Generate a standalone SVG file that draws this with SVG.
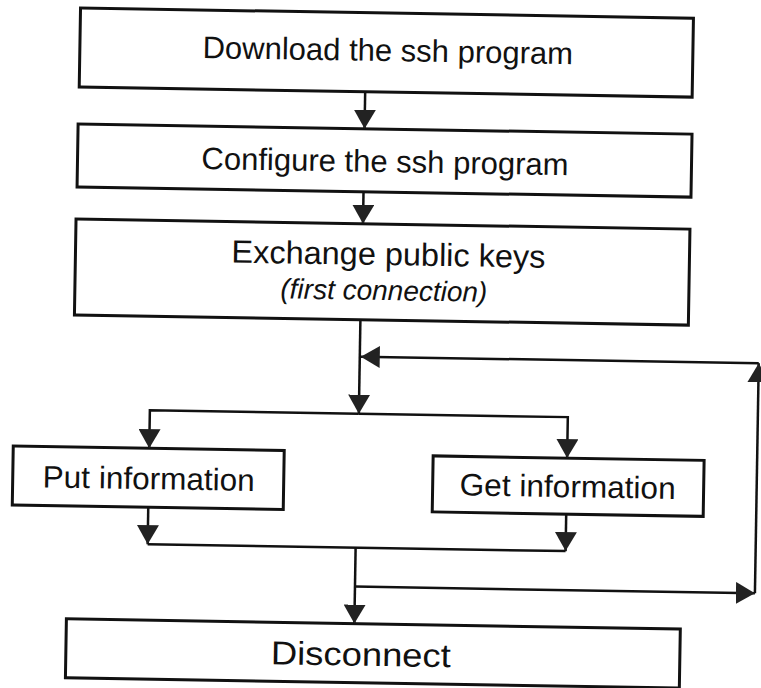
<svg xmlns="http://www.w3.org/2000/svg" width="761" height="688" viewBox="0 0 761 688">
<style>
.box{fill:#fff;stroke:#111;stroke-width:3}
.t{font-family:"Liberation Sans",Arial,sans-serif;font-size:31px;fill:#111;text-anchor:middle}
.i{font-style:italic;font-size:28px}
.c{fill:none;stroke:#111;stroke-width:2.5}
</style>
<defs>
<marker id="ah" markerUnits="userSpaceOnUse" markerWidth="20" markerHeight="22" refX="19" refY="11" orient="auto" viewBox="0 0 20 22">
<path d="M0,0 L19,11 L0,22 Z" fill="#222"/>
</marker>
</defs>
<rect width="761" height="688" fill="#fff"/>
<g transform="rotate(0.95 380 344)">
<g id="download">
<rect class="box" x="75" y="13" width="613" height="79"/>
<text class="t" x="383" y="61">Download the ssh program</text>
</g>
<g id="configure">
<rect class="box" x="74.5" y="129" width="614" height="63"/>
<text class="t" x="382" y="172">Configure the ssh program</text>
</g>
<g id="exchange">
<rect class="box" x="74" y="224" width="614" height="96"/>
<text class="t" x="387" y="265" style="font-size:32px" textLength="314" lengthAdjust="spacingAndGlyphs">Exchange public keys</text>
<text class="t i" x="383" y="300">(first connection)</text>
</g>
<g id="put">
<rect class="box" x="15" y="452" width="271" height="59"/>
<text class="t" x="151" y="493" textLength="212" lengthAdjust="spacingAndGlyphs">Put information</text>
</g>
<g id="get">
<rect class="box" x="435" y="455" width="271" height="56"/>
<text class="t" x="570" y="494" textLength="216" lengthAdjust="spacingAndGlyphs">Get information</text>
</g>
<g id="disconnect">
<rect class="box" x="71" y="624" width="614" height="59"/>
<text class="t" x="366" y="666" style="font-size:33px" textLength="180" lengthAdjust="spacingAndGlyphs">Disconnect</text>
</g>
<g id="connectors">
<path class="c" d="M361,92 V129" marker-end="url(#ah)"/>
<path class="c" d="M361,192 V224" marker-end="url(#ah)"/>
<path class="c" d="M360,320 V414" marker-end="url(#ah)"/>
<path class="c" d="M360,414 H151 V452" marker-end="url(#ah)"/>
<path class="c" d="M360,414 H569 V455" marker-end="url(#ah)"/>
<path class="c" d="M151,511 V548" marker-end="url(#ah)"/>
<path class="c" d="M569,511 V548" marker-end="url(#ah)"/>
<path class="c" d="M151,548 H569"/>
<path class="c" d="M359,548 V624" marker-end="url(#ah)"/>
<path class="c" d="M359,587 H759" marker-end="url(#ah)"/>
<path class="c" d="M759,587 V357" marker-end="url(#ah)"/>
<path class="c" d="M759,357 H361" marker-end="url(#ah)"/>
</g>
</g>
</svg>
